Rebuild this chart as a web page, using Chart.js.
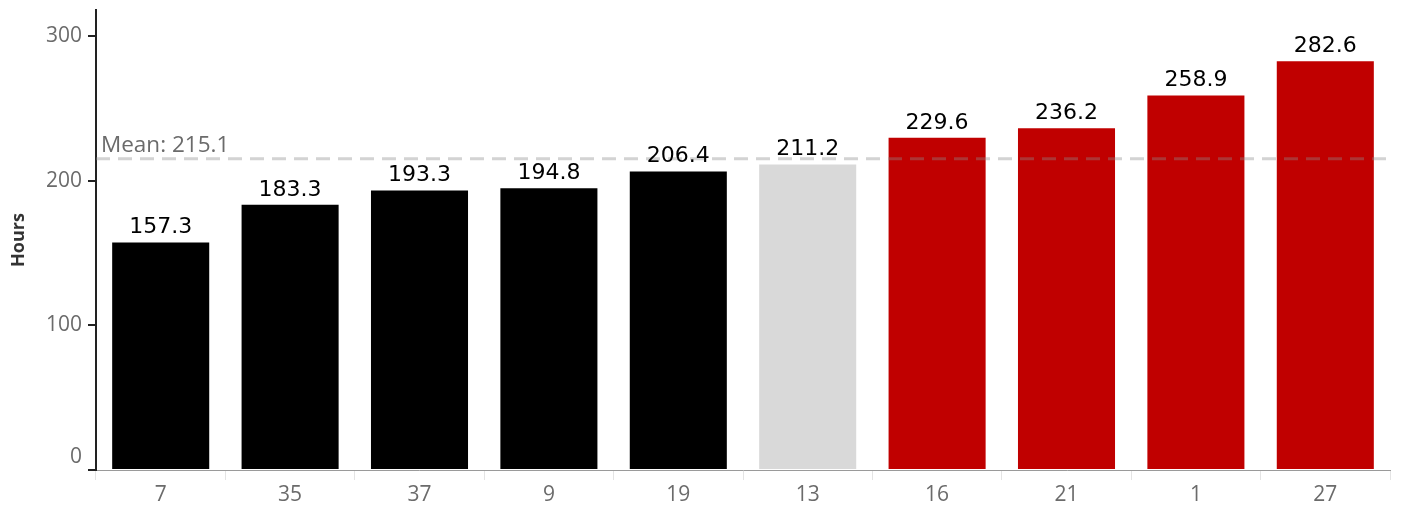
<!DOCTYPE html>
<html>
<head>
<meta charset="utf-8">
<script src="https://cdn.jsdelivr.net/npm/chart.js@4"></script>
<style>
  html, body { margin: 0; padding: 0; background: #fff; }
  #wrap { width: 1402px; height: 510px; position: relative; }
</style>
</head>
<body>
<div id="wrap"><canvas id="chart"></canvas></div>
<script>
const categories = ["7", "35", "37", "9", "19", "13", "16", "21", "1", "27"];
const hours = [157.3, 183.3, 193.3, 194.8, 206.4, 211.2, 229.6, 236.2, 258.9, 282.6];
const groups = ["below", "below", "below", "below", "below", "near", "above", "above", "above", "above"];
const meanValue = 215.1;
const yTicks = [0, 100, 200, 300];

const groupColors = { below: "#000000", near: "#d9d9d9", above: "#c00000" };
const tickFont = "21px 'Open Sans'";
const greyText = "#6b6b6b";

// mean line, y tick labels and value labels
const overlay = {
  id: "overlay",
  afterDatasetsDraw(chart) {
    const { ctx, chartArea, scales } = chart;
    const y = scales.y;
    ctx.save();

    // mean reference line
    const my = y.getPixelForValue(meanValue);
    ctx.strokeStyle = "rgba(140,140,140,0.38)";
    ctx.lineWidth = 3;
    ctx.setLineDash([14, 8]);
    ctx.beginPath();
    ctx.moveTo(chartArea.left, my);
    ctx.lineTo(chartArea.right, my);
    ctx.stroke();
    ctx.setLineDash([]);

    ctx.fillStyle = greyText;
    ctx.font = "22.5px 'Open Sans'";
    ctx.textAlign = "left";
    ctx.textBaseline = "alphabetic";
    ctx.fillText("Mean: " + meanValue.toFixed(1), chartArea.left + 5, my - 7);

    // y tick labels (bottom one nudged up like the original)
    ctx.font = tickFont;
    ctx.textAlign = "right";
    ctx.textBaseline = "middle";
    yTicks.forEach((v) => {
      let py = y.getPixelForValue(v);
      if (v === 0) py -= 13;
      ctx.fillText(String(v), chartArea.left - 14, py);
    });

    // value labels
    const meta = chart.getDatasetMeta(0);
    ctx.fillStyle = "#000";
    ctx.font = "22px 'DejaVu Sans'";
    ctx.textAlign = "center";
    ctx.textBaseline = "alphabetic";
    meta.data.forEach((bar, i) => {
      ctx.fillText(hours[i].toFixed(1), bar.x, bar.y - 9);
    });

    ctx.restore();
  },
};

new Chart(document.getElementById("chart"), {
  type: "bar",
  data: {
    labels: categories,
    datasets: [
      {
        data: hours,
        backgroundColor: groups.map((g) => groupColors[g]),
        borderWidth: 0,
        inflateAmount: 0,
        barPercentage: 0.75,
        categoryPercentage: 1,
      },
    ],
  },
  options: {
    responsive: true,
    maintainAspectRatio: false,
    animation: false,
    devicePixelRatio: 1,
    layout: { padding: { top: 10, right: 12, left: 0, bottom: 0 } },
    plugins: { legend: { display: false }, tooltip: { enabled: false } },
    scales: {
      x: {
        grid: {
          drawOnChartArea: false,
          drawTicks: true,
          tickLength: 10,
          color: "#e4e4e4",
          offset: true,
        },
        border: { display: true, color: "#9a9a9a", width: 1 },
        ticks: {
          color: greyText,
          font: { family: "'Open Sans'", size: 21 },
          padding: 2,
          maxRotation: 0,
        },
        afterFit(scale) {
          scale.height = 40;
        },
      },
      y: {
        min: 0,
        max: 318,
        afterBuildTicks(scale) {
          scale.ticks = yTicks.map((v) => ({ value: v }));
        },
        grid: {
          drawOnChartArea: false,
          drawTicks: true,
          tickLength: 8,
          color: "#222",
          lineWidth: 2,
        },
        border: { display: true, color: "#222", width: 2 },
        ticks: { display: false },
        title: {
          display: true,
          text: "Hours",
          color: "#333",
          font: { family: "'Open Sans'", size: 18, weight: "bold" },
          padding: { top: 8, bottom: 0 },
        },
        afterFit(scale) {
          scale.width = 96;
        },
      },
    },
  },
  plugins: [overlay],
});
</script>
</body>
</html>
